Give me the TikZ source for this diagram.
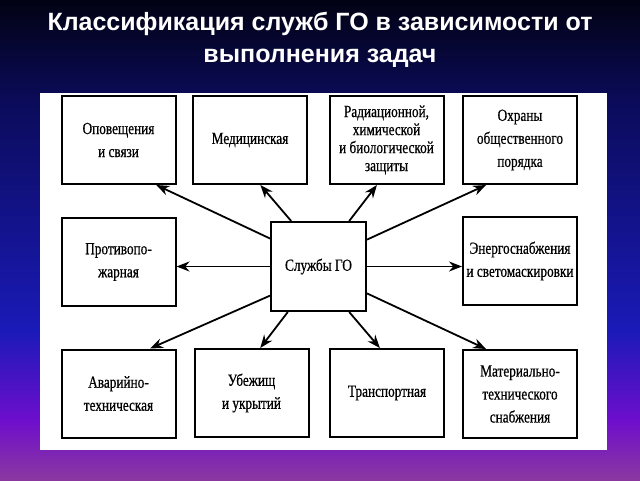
\documentclass[tikz,border=0pt]{standalone}
\usepackage{fontspec}
\usepackage{tikz}
\usetikzlibrary{arrows.meta}
\newfontfamily\titlefont{Liberation Sans}
\newfontfamily\boxfont{Liberation Serif}[FakeStretch=0.78,FakeBold=0.6]
\definecolor{bgA}{HTML}{020214}
\definecolor{bgB}{HTML}{0B0B5A}
\definecolor{bgC}{HTML}{1A1AB8}
\definecolor{bgD}{HTML}{6E0ECC}
\definecolor{bgE}{HTML}{8A38A0}

\begin{document}
\begin{tikzpicture}[x=1pt,y=-1pt,
        srvbox/.style={draw,line width=2pt,minimum width=114pt,minimum height=88pt,
            align=center,inner sep=2pt,font=\boxfont\fontsize{17}{23}\selectfont},
        arr/.style={line width=1.8pt,-{Stealth[length=13pt,width=10pt]}},
        title/.style={text=white,anchor=base,font=\titlefont\bfseries\fontsize{25}{30}\selectfont}]
        \useasboundingbox (0,0) rectangle (640,480);
        % background
        \shade[top color=bgA,bottom color=bgB] (0,0) rectangle (640,101);
        \shade[top color=bgB,bottom color=bgC] (0,100) rectangle (640,331);
        \shade[top color=bgC,bottom color=bgD] (0,330) rectangle (640,421);
        \shade[top color=bgD,bottom color=bgE] (0,420) rectangle (640,480);
        \fill[white] (40,93) rectangle (607,450);
        \node[title] (t1) at (320,30) {Классификация служб ГО в зависимости от};
        \node[title] (t2) at (320,62) {выполнения задач};
        % top row
        \node[srvbox] (opov) at (118.5,140) {Оповещения\\и связи};
        \node[srvbox] (med) at (250,140) {Медицинская};
        \node[srvbox,font=\boxfont\fontsize{17}{18}\selectfont] (rhbz) at (386.5,140) {Радиационной,\\химической\\и биологической\\защиты};
        \node[srvbox] (ohr) at (520,140) {Охраны\\общественного\\порядка};
        % middle row
        \node[srvbox] (pozh) at (118.5,262) {Противопо-\\жарная};
        \node[srvbox,minimum width=95pt,minimum height=89pt] (go) at (318.5,266.5) {Службы ГО};
        \node[srvbox] (energo) at (520,261) {Энергоснабжения\\и светомаскировки};
        % bottom row
        \node[srvbox] (avar) at (118.5,393.5) {Аварийно-\\техническая};
        \node[srvbox] (ubezh) at (251.5,393) {Убежищ\\и укрытий};
        \node[srvbox] (transp) at (387,393) {Транспортная};
        \node[srvbox] (mto) at (520,394) {Материально-\\технического\\снабжения};
        % arrows
        \draw[arr] (go.150) -- (opov.-50);
        \draw[arr] (go.121) -- (med.-77);
        \draw[arr] (go.56) -- (rhbz.-102);
        \draw[arr] (go.29) -- (ohr.-127);
        \draw[arr] (go.west) -- (go.west -| pozh.east);
        \draw[arr] (go.east) -- (go.east -| energo.west);
        \draw[arr] (go.211) -- (avar.55);
        \draw[arr] (go.236) -- (ubezh.79);
        \draw[arr] (go.-56) -- (transp.99);
        \draw[arr] (go.-29) -- (mto.127);
\end{tikzpicture}
\end{document}
